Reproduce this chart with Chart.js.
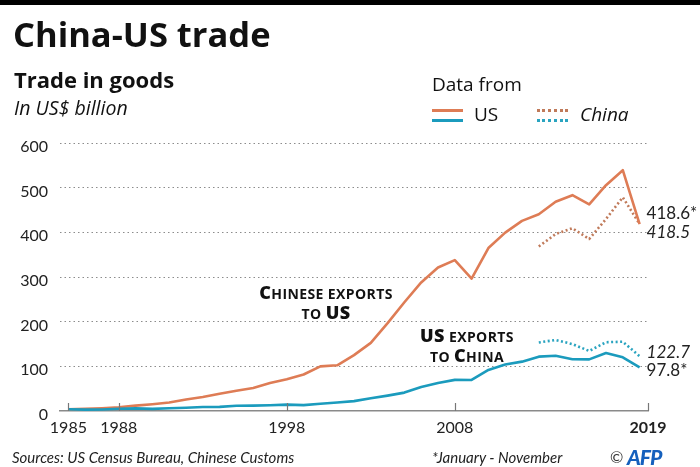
<!DOCTYPE html>
<html>
<head>
<meta charset="utf-8">
<script src="https://cdn.jsdelivr.net/npm/chart.js@4/dist/chart.umd.min.js"></script>
<style>
  body { margin: 0; background: #fff; }
  #wrap { position: relative; width: 700px; height: 467px; font-family: "Open Sans", Lato, sans-serif; color: #111; }
  #wrap canvas { position: absolute; left: 0; top: 0; }
  .t { position: absolute; white-space: nowrap; line-height: 1; }
  .lato { font-family: Lato, sans-serif; }
  .bar { position: absolute; left: 0; top: 0; width: 700px; height: 5px; background: #000; }
  .ln { position: absolute; width: 31px; height: 0; }
  .note { position: absolute; text-align: center; font-weight: 700; font-size: 14px; line-height: 18px; letter-spacing: 0.4px; color: #111; }
  .note b { font-size: 18px; }
</style>
</head>
<body>
<div id="wrap">
  <canvas id="myChart" width="700" height="467"></canvas>
  <div class="bar"></div>
  <div class="t" style="left:13px;top:17px;font-size:34.5px;font-weight:700;">China-US trade</div>
  <div class="t" style="left:14px;top:68px;font-size:22px;font-weight:700;">Trade in goods</div>
  <div class="t" style="left:14px;top:98px;font-size:19.5px;font-style:italic;">In US$ billion</div>

  <div class="t" style="left:432px;top:75px;font-size:19px;">Data from</div>
  <div class="ln" style="left:432px;top:109px;border-top:3px solid #de7c55;"></div>
  <div class="ln" style="left:432px;top:119px;border-top:3px solid #1b9bbd;"></div>
  <div class="t" style="left:474px;top:105px;font-size:19px;">US</div>
  <div class="ln" style="left:537px;top:109px;border-top:3px dotted #c07a5a;"></div>
  <div class="ln" style="left:537px;top:119px;border-top:3px dotted #2aa4c0;"></div>
  <div class="t" style="left:580px;top:105px;font-size:19px;font-style:italic;">China</div>

  <div class="note" style="left:226px;top:283px;width:200px;"><b>C</b>HINESE EXPORTS<br>TO <b>US</b></div>
  <div class="note" style="left:367px;top:326px;width:200px;"><b>US</b> EXPORTS<br>TO <b>C</b>HINA</div>

  <div class="t lato" style="left:12px;top:450px;font-size:15px;font-style:italic;color:#222;">Sources: US Census Bureau, Chinese Customs</div>
  <div class="t lato" style="left:432px;top:450px;font-size:15px;font-style:italic;color:#222;">*January - November</div>
  <div class="t lato" style="left:610px;top:449px;font-size:16px;color:#333;">©</div>
  <div class="t lato" style="left:627px;top:446px;font-size:21px;font-weight:900;font-style:italic;color:#1560bd;letter-spacing:-1px;">AFP</div>
</div>

<script>
'use strict';

//Data

let years = [1985, 1986, 1987, 1988, 1989, 1990, 1991, 1992, 1993, 1994,
  1995, 1996, 1997, 1998, 1999, 2000, 2001, 2002, 2003, 2004,
  2005, 2006, 2007, 2008, 2009, 2010, 2011, 2012, 2013, 2014,
  2015, 2016, 2017, 2018, 2019];

// US data (US Census Bureau)
let chineseExportsUS = [3.9, 4.8, 6.3, 8.5, 12.0, 15.2, 19.0, 25.7, 31.5, 38.8,
  45.5, 51.5, 62.6, 71.2, 81.8, 100.0, 102.3, 125.2, 152.4, 196.7,
  243.5, 287.8, 321.4, 337.8, 296.4, 364.9, 399.4, 425.6, 440.4, 468.5,
  483.2, 462.6, 505.5, 539.2, 418.6];

let usExportsChina = [3.9, 3.1, 3.5, 5.0, 5.8, 4.8, 6.3, 7.4, 8.8, 9.3,
  11.8, 12.0, 12.9, 14.2, 13.1, 16.2, 19.2, 22.1, 28.4, 34.4,
  41.2, 53.7, 62.9, 69.7, 69.5, 91.9, 103.9, 110.5, 121.7, 123.7,
  115.9, 115.6, 129.9, 120.1, 97.8];

// China data (Chinese Customs)
let chinaYears = [2013, 2014, 2015, 2016, 2017, 2018, 2019];
let chinaExportsChina = [368.4, 396.1, 409.2, 385.1, 429.8, 478.4, 418.5];
let chinaImportsChina = [153.4, 159.0, 149.8, 134.4, 154.0, 155.1, 122.7];

let xTicks = [1985, 1988, 1998, 2008, 2019];
let yTicks = [0, 100, 200, 300, 400, 500, 600];

// end labels: [dataset index, text, italic, dy]
let endLabels = [
  [1, '418.6*', false, -11],
  [3, '418.5', true, 8],
  [2, '122.7', true, -4],
  [0, '97.8*', false, 3]
];

function toPoints(xs, ys){
  return xs.map((x, i) => ({x: x, y: ys[i]}));
}

const orange = '#de7c55';
const teal = '#1b9bbd';

//Plugin: small upward ticks on the baseline and the end values

const extras = {
  id: 'extras',
  afterDraw(chart){
    const ctx = chart.ctx;
    const xs = chart.scales.x;
    const bottom = chart.chartArea.bottom;
    ctx.save();
    ctx.strokeStyle = '#777';
    ctx.lineWidth = 1.2;
    xs.ticks.forEach(t => {
      const px = Math.round(xs.getPixelForValue(t.value)) + 0.5;
      ctx.beginPath();
      ctx.moveTo(px, bottom);
      ctx.lineTo(px, bottom - 8);
      ctx.stroke();
    });

    ctx.fillStyle = '#222';
    ctx.textBaseline = 'middle';
    endLabels.forEach(l => {
      const meta = chart.getDatasetMeta(l[0]);
      const last = meta.data[meta.data.length - 1];
      ctx.font = (l[2] ? 'italic ' : '') + '17px Lato';
      ctx.fillText(l[1], last.x + 7, last.y + l[3]);
    });
    ctx.restore();
  }
};

const data = {
  datasets: [{
    label: 'US exports to China (US data)',
    data: toPoints(years, usExportsChina),
    borderColor: teal,
    borderWidth: 2.6
  },{
    label: 'Chinese exports to US (US data)',
    data: toPoints(years, chineseExportsUS),
    borderColor: orange,
    borderWidth: 2.6
  },{
    label: 'US exports to China (China data)',
    data: toPoints(chinaYears, chinaImportsChina),
    borderColor: '#2aa4c0',
    borderWidth: 2.6,
    borderDash: [2, 2.5]
  },{
    label: 'Chinese exports to US (China data)',
    data: toPoints(chinaYears, chinaExportsChina),
    borderColor: '#c07a5a',
    borderWidth: 2.6,
    borderDash: [2, 2.5]
  }]
};

const config = {
  type: 'line',
  data: data,
  plugins: [extras],
  options: {
    responsive: false,
    animation: false,
    layout: { padding: { top: 143, right: 52, left: 0, bottom: 0 } },
    elements: {
      point: { radius: 0 },
      line: { tension: 0, borderJoinStyle: 'round', borderCapStyle: 'butt' }
    },
    plugins: {
      legend: { display: false },
      tooltip: { enabled: false }
    },
    scales: {
      x: {
        type: 'linear',
        min: 1984.5,
        max: 2019.5,
        afterFit: s => { s.height = 56; },
        afterBuildTicks: s => {
          s.ticks = xTicks.map(v => ({ value: v === 2019 ? s.max : v }));
        },
        grid: { drawOnChartArea: false, drawTicks: false },
        border: { display: true, color: '#8a8a8a', width: 1.6 },
        ticks: {
          padding: 7,
          maxRotation: 0,
          autoSkip: false,
          color: '#222',
          callback: v => v > 2019 ? '2019' : String(v),
          font: c => ({ family: 'Lato', size: 16, weight: c.tick && c.tick.value > 2019 ? 'bold' : 'normal' })
        }
      },
      y: {
        min: 0,
        max: 600,
        afterFit: s => { s.width = 60; },
        afterBuildTicks: s => {
          s.ticks = yTicks.map(v => ({ value: v }));
        },
        border: { display: false, dash: [1.5, 3] },
        grid: {
          drawTicks: false,
          color: c => c.tick && c.tick.value === 0 ? 'rgba(0,0,0,0)' : '#8c8c8c',
          lineWidth: 1
        },
        ticks: {
          padding: 12,
          labelOffset: 4,
          color: '#222',
          font: { family: 'Lato', size: 16 }
        }
      }
    }
  }
};

const myChart = new Chart(
  document.getElementById('myChart'),
  config
);
</script>
</body>
</html>
